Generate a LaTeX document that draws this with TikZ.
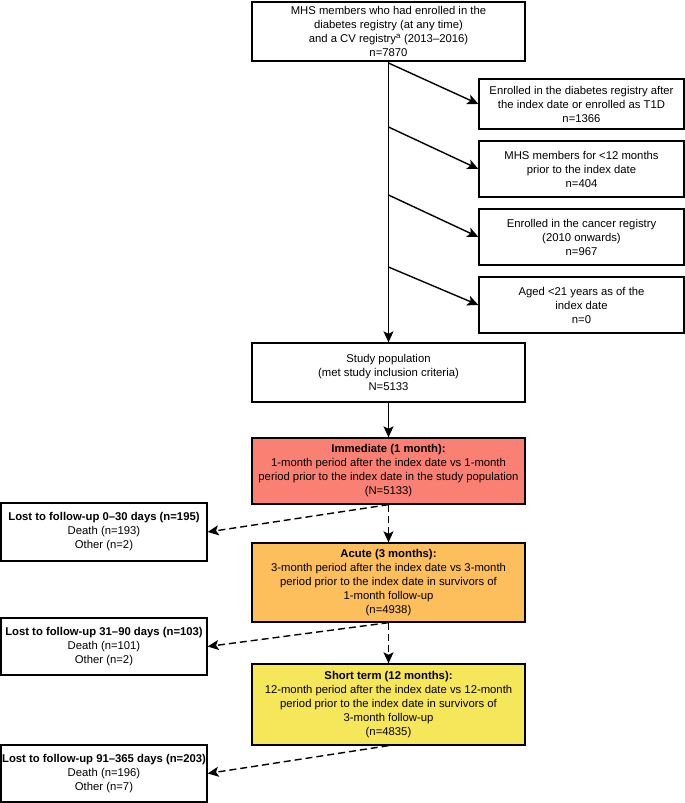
\documentclass[tikz,border=0pt]{standalone}
\usepackage{fontspec}
\setmainfont{Liberation Sans}
\usetikzlibrary{arrows.meta}
\definecolor{immfill}{RGB}{250,128,116}
\definecolor{acufill}{RGB}{253,190,92}
\definecolor{shortfill}{RGB}{245,230,90}
\tikzset{
  flowbox/.style={draw, line width=1.3pt, rectangle, align=center, inner sep=0pt,
    font=\fontsize{11.3}{14}\selectfont},
  mainbox/.style={flowbox, minimum width=273pt},
  exclbox/.style={flowbox, minimum width=205pt, minimum height=56pt},
  lostbox/.style={flowbox, minimum width=206pt, minimum height=57pt},
  solidarrow/.style={line width=1.4pt, -{Stealth[length=11pt,width=10pt,inset=2.5pt]}},
  dasharrow/.style={solidarrow, dash pattern=on 7pt off 4pt},
}
\begin{document}
\begin{tikzpicture}[x=1pt,y=1pt,yscale=-1]
		\useasboundingbox (0,0) rectangle (685,803);

		% main column
		\node [mainbox, minimum height=59pt] (start) at (388.5,31.5) {MHS members who had enrolled in the\\diabetes registry (at any time)\\and a CV registry\textsuperscript{a} (2013--2016)\\n=7870};
		\node [mainbox, minimum height=59pt] (study) at (388.5,372.5) {Study population\\(met study inclusion criteria)\\N=5133};
		\node [mainbox, minimum height=66pt, fill=immfill] (immediate) at (388.5,471) {\textbf{Immediate (1 month):}\\1-month period after the index date vs 1-month\\period prior to the index date in the study population\\(N=5133)};
		\node [mainbox, minimum height=79pt, fill=acufill] (acute) at (388.5,582.5) {\textbf{Acute (3 months):}\\3-month period after the index date vs 3-month\\period prior to the index date in survivors of\\1-month follow-up\\(n=4938)};
		\node [mainbox, minimum height=81pt, fill=shortfill] (shortterm) at (388.5,704.5) {\textbf{Short term (12 months):}\\12-month period after the index date vs 12-month\\period prior to the index date in survivors of\\3-month follow-up\\(n=4835)};

		% exclusions
		\node [exclbox, minimum height=50pt] (exclT1D) at (581.5,104) {Enrolled in the diabetes registry after\\the index date or enrolled as T1D\\n=1366};
		\node [exclbox] (exclMember) at (581.5,169) {MHS members for <12 months\\prior to the index date\\n=404};
		\node [exclbox] (exclCancer) at (581.5,237) {Enrolled in the cancer registry\\(2010 onwards)\\n=967};
		\node [exclbox] (exclAge) at (581.5,305) {Aged <21 years as of the\\index date\\n=0};

		% lost to follow-up
		\node [lostbox, minimum height=58pt] (lost30) at (104,532) {\textbf{Lost to follow-up 0--30 days (n=195)}\\Death (n=193)\\Other (n=2)};
		\node [lostbox] (lost90) at (104,646.5) {\textbf{Lost to follow-up 31--90 days (n=103)}\\Death (n=101)\\Other (n=2)};
		\node [lostbox] (lost365) at (104,773.5) {\textbf{Lost to follow-up 91--365 days (n=203)}\\Death (n=196)\\Other (n=7)};

		\coordinate (split1) at (388.5,63);
		\coordinate (split2) at (388.5,127);
		\coordinate (split3) at (388.5,195);
		\coordinate (split4) at (388.5,267);

		\draw [solidarrow] (start.south) -- (study.north);
		\draw [solidarrow] (split1) -- (exclT1D.west);
		\draw [solidarrow] (split2) -- (exclMember.west);
		\draw [solidarrow] (split3) -- (exclCancer.west);
		\draw [solidarrow] (split4) -- (exclAge.west);
		\draw [solidarrow] (study.south) -- (immediate.north);

		\draw [dasharrow] (immediate.south) -- (acute.north);
		\draw [dasharrow] (immediate.south) -- (lost30.east);
		\draw [dasharrow] (acute.south) -- (shortterm.north);
		\draw [dasharrow] (acute.south) -- (lost90.east);
		\draw [dasharrow] (shortterm.south) -- (lost365.east);
\end{tikzpicture}
\end{document}
